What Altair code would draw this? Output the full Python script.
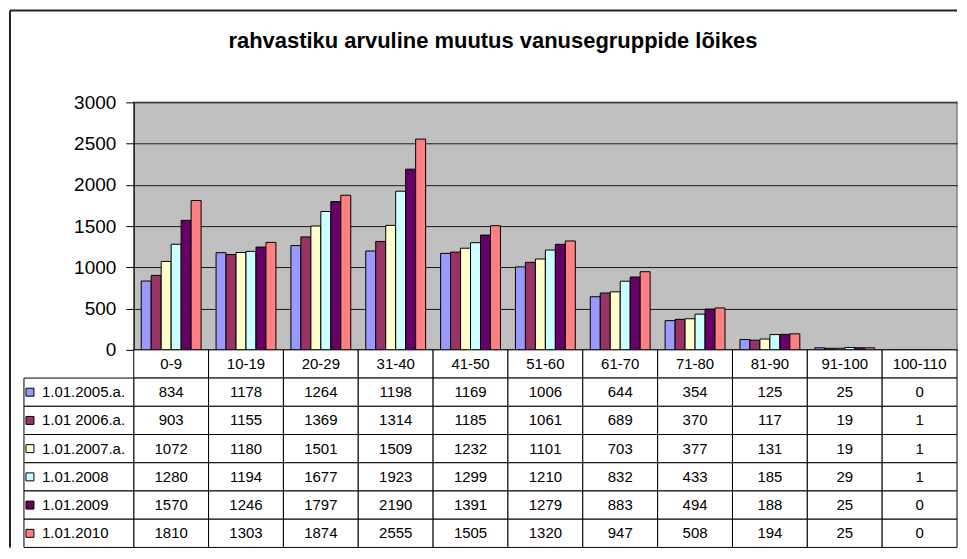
import altair as alt
import pandas as pd

cats = ["0-9", "10-19", "20-29", "31-40", "41-50", "51-60", "61-70", "71-80", "81-90", "91-100", "100-110"]
series = ["1.01.2005.a.", "1.01 2006.a.", "1.01.2007.a.", "1.01.2008", "1.01.2009", "1.01.2010"]
v2005 = [834, 1178, 1264, 1198, 1169, 1006, 644, 354, 125, 25, 0]
v2006 = [903, 1155, 1369, 1314, 1185, 1061, 689, 370, 117, 19, 1]
v2007 = [1072, 1180, 1501, 1509, 1232, 1101, 703, 377, 131, 19, 1]
v2008 = [1280, 1194, 1677, 1923, 1299, 1210, 832, 433, 185, 29, 1]
v2009 = [1570, 1246, 1797, 2190, 1391, 1279, 883, 494, 188, 25, 0]
v2010 = [1810, 1303, 1874, 2555, 1505, 1320, 947, 508, 194, 25, 0]
colors = ["#9999FF", "#993366", "#FFFFCC", "#CCFFFF", "#660066", "#FF8080"]
title_text = "rahvastiku arvuline muutus vanusegruppide lõikes"
yticks = [0, 500, 1000, 1500, 2000, 2500, 3000]

vals = [v2005, v2006, v2007, v2008, v2009, v2010]
rows = []
for s, vs in zip(series, vals):
    for c, v in zip(cats, vs):
        rows.append({"cat": c, "series": s, "value": v, "label": str(v)})
df = pd.DataFrame(rows)

hdr = "hdr"
table_rows = [{"cat": c, "series": hdr, "label": c} for c in cats] + rows
tdf = pd.DataFrame(table_rows)
legdf = pd.DataFrame({"series": series})

W = 825
H = 248
TH = 198
FONT = "Liberation Sans"

color = alt.Color("series:N", scale=alt.Scale(domain=series, range=colors), legend=None)

bars = alt.Chart(df).mark_bar(stroke="black", strokeWidth=1).encode(
    x=alt.X("cat:N", sort=cats, scale=alt.Scale(paddingInner=0.2, paddingOuter=0.1),
            axis=alt.Axis(labels=False, ticks=False, title=None, domainColor="black", domainWidth=1.5)),
    xOffset=alt.XOffset("series:N", sort=series, scale=alt.Scale(paddingInner=0, paddingOuter=0)),
    y=alt.Y("value:Q", scale=alt.Scale(domain=[0, 3000], nice=False),
            axis=alt.Axis(values=yticks, format="d", title=None, grid=True, gridColor="#1a1a1a", gridWidth=1,
                          tickSize=8, tickColor="black", domainColor="black", labelFontSize=19,
                          labelColor="black", labelFont=FONT, labelPadding=10)),
    color=color,
)

one = pd.DataFrame({"a": [0]})
title = alt.Chart(one).mark_text(text=title_text, font=FONT, fontSize=22, fontWeight="bold",
                                 align="center", baseline="alphabetic", color="black").encode(
    x=alt.value(360), y=alt.value(-54))
border_top = alt.Chart(one).mark_rule(color="#222222", strokeWidth=2).encode(
    x=alt.value(-124), x2=alt.value(W), y=alt.value(-92))
border_left = alt.Chart(one).mark_rule(color="#222222", strokeWidth=2).encode(
    x=alt.value(-124), y=alt.value(-92), y2=alt.value(446))

top = alt.layer(bars, title, border_top, border_left).properties(
    width=W, height=H, view=alt.ViewBackground(fill="#C0C0C0", stroke="#808080", strokeWidth=1.5))

ydom = [hdr] + series
yenc = alt.Y("series:N", scale=alt.Scale(domain=ydom, paddingInner=0, paddingOuter=0), axis=None)
xenc = alt.X("cat:N", sort=cats, scale=alt.Scale(paddingInner=0, paddingOuter=0), axis=None)

cells = alt.Chart(tdf).mark_rect(fill="white", stroke="black", strokeWidth=1).encode(x=xenc, y=yenc)
celltext = alt.Chart(tdf).mark_text(font=FONT, fontSize=15, color="black", baseline="middle").encode(
    x=xenc, y=yenc, text="label:N")
legcells = alt.Chart(legdf).mark_rect(fill="white", stroke="black", strokeWidth=1).encode(
    x=alt.value(-110), x2=alt.value(0), y=yenc)
legsq = alt.Chart(legdf).mark_square(size=64, stroke="black", strokeWidth=1, opacity=1).encode(
    x=alt.value(-104), y=yenc, color=color)
legtext = alt.Chart(legdf).mark_text(font=FONT, fontSize=15, color="black", align="left",
                                     baseline="middle").encode(
    x=alt.value(-92), y=yenc, text="series:N")

bottom = alt.layer(cells, legcells, legsq, celltext, legtext).properties(
    width=W, height=TH, view=alt.ViewBackground(stroke="transparent"))

chart = alt.vconcat(top, bottom, spacing=0, bounds="flush").resolve_scale(
    x="independent", y="independent").properties(
    padding={"left": 0, "top": 0, "right": 0, "bottom": 0}, background="white")

chart.save("out.html", embed_options={"renderer": "svg", "actions": False})
